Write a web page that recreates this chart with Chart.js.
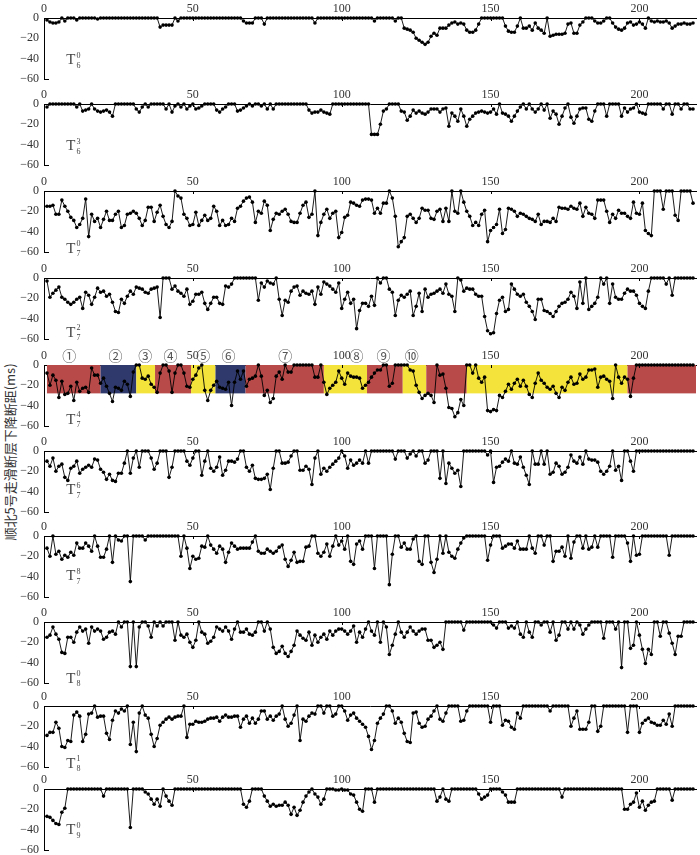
<!DOCTYPE html>
<html>
<head>
<meta charset="utf-8">
<script src="https://cdn.jsdelivr.net/npm/chart.js@4.4.1/dist/chart.umd.min.js"></script>
<style>
  body { margin: 0; background: #fff; width: 700px; height: 855px; position: relative; overflow: hidden; }
  canvas { position: absolute; left: 0; }
  #ytitle {
    position: absolute; left: 9px; top: 452px; white-space: nowrap;
    font: 13px "Noto Sans CJK SC", sans-serif; color: #333;
    transform: translate(-50%, -50%) rotate(-90deg);
  }
</style>
</head>
<body>
<div id="ytitle">顺北5号走滑断层下降断距(ms)</div>
<script>
// tick labels
const xTicks = [0, 50, 100, 150, 200];
const yTicks = [0, -20, -40, -60];

// panel names (T with superscript / subscript)
const panelSup = ['0', '3', '0', '2', '4', '6', '8', '0', '1', '0'];
const panelSub = ['6', '6', '7', '7', '7', '7', '7', '8', '8', '9'];

// throw values (ms), one per position 1..218
const t6_0 = [-2,-4,-5,-5,-4,0,-3,0,0,0,
  -2,0,0,0,0,0,0,-1,0,0,
  0,0,0,0,0,0,0,0,0,0,
  0,0,0,0,0,0,0,0,-9,-7,
  -7,-7,-7,0,-3,0,0,0,0,0,
  0,0,0,0,0,0,0,0,0,0,
  0,0,0,0,0,0,-3,-5,-5,-5,
  0,0,0,-6,0,0,0,0,0,0,
  0,0,0,0,0,0,0,0,0,0,
  -5,0,0,0,0,0,0,0,0,0,
  0,0,0,0,0,0,0,0,0,0,
  -3,0,0,0,0,0,0,-3,0,0,
  -10,-11,-12,-14,-20,-22,-24,-26,-24,-18,
  -15,-17,-10,-10,-10,-7,-5,-4,-6,-5,
  -6,-12,-14,-14,-12,-6,0,0,0,0,
  0,0,0,0,-8,-13,-14,-14,-8,0,
  -10,-10,-8,-12,-5,-10,-12,-15,0,-18,
  -17,-16,-16,-16,-15,-6,-5,-15,-15,-7,
  -4,0,0,0,-3,-5,-5,-3,0,0,
  -5,-9,-11,-12,-10,-5,-4,-7,-6,-4,
  -6,-10,0,-3,-4,-3,-4,-4,-3,-5,
  -10,-8,-6,-6,-5,-6,-6,-5];

const t6_3 = [-3,0,0,0,0,0,0,0,0,0,
  -3,0,-7,-6,-5,0,-5,-7,-8,-7,
  -6,-8,-12,0,0,0,0,0,0,0,
  -5,-8,-3,0,-3,0,0,0,0,0,
  -5,0,-8,-2,0,-3,0,-5,-2,0,
  -5,-4,-2,0,0,0,0,-6,-8,-5,
  -3,0,0,0,-7,-6,-4,-2,0,-2,
  0,0,-2,0,-5,0,-5,0,0,0,
  0,0,0,0,0,0,0,0,-6,-9,
  -8,-8,-6,-8,-9,-10,0,0,0,0,
  0,0,0,0,0,0,0,0,0,-30,
  -30,-30,-20,-7,-5,0,0,0,0,-7,
  -8,-16,-12,-6,-9,-7,-9,-10,-8,-5,
  -5,-5,-8,-5,-4,-22,-9,-12,-17,-5,
  -12,-22,-15,-12,-9,-8,-7,-8,-9,-8,
  -5,-10,0,-9,-10,-12,-17,-12,-7,-3,
  0,-5,0,-5,-8,-5,0,-6,0,-14,
  -7,-10,-20,-12,-4,0,-13,-19,-12,-5,
  -4,-4,-15,-17,-7,0,0,0,-12,0,
  0,0,0,-12,-4,-8,-5,-4,0,-8,
  -9,-10,0,0,0,0,0,-5,0,0,
  -10,0,0,-5,0,0,-5,-5];

const t7_0 = [-15,-15,-14,-23,-23,-9,-15,-20,-26,-29,
  -36,-33,-27,-8,-45,-23,-30,-27,-36,-28,
  -20,-29,-29,-23,-20,-36,-34,-23,-22,-20,
  -22,-27,-34,-29,-16,-16,-30,-21,-14,-25,
  -33,-36,-30,0,-5,-7,-23,-27,-34,-33,
  -21,-34,-29,-24,-29,-27,-15,-20,-34,-29,
  -34,-33,-27,-30,-17,-15,-10,-7,-6,-11,
  -31,-20,-22,-10,-14,-39,-28,-22,-23,-20,
  -18,-23,-30,-31,-31,-22,-14,-11,-26,-23,
  0,-44,-31,-23,-18,-27,-22,-20,-46,-41,
  -26,-24,-11,-12,-14,-15,-9,-8,-8,-9,
  -22,-17,-22,-12,-12,0,-7,-25,-55,-50,
  -46,-25,-23,-27,-31,-27,-17,-19,-19,-27,
  -28,-20,-18,-30,-17,-30,0,-20,-22,0,
  -11,-20,-25,-34,-31,-34,-23,-19,-50,-39,
  -36,-33,-18,-42,-38,-17,-18,-20,-25,-22,
  -23,-25,-27,-28,-30,-23,-33,-30,-30,-31,
  -27,-30,-16,-17,-17,-18,-15,-17,-18,-12,
  -25,-16,-22,-23,-27,-9,-9,-9,-20,-31,
  -23,-27,-19,-22,-22,-25,-27,-11,-22,-23,
  -12,-39,-42,-44,0,0,0,-18,0,0,
  0,-24,-29,0,0,0,0,-12];

const t7_2 = [-3,-19,-15,-12,-9,-19,-21,-24,-26,-24,
  -21,-19,-30,-14,-17,-26,-19,-10,-14,-13,
  -18,-16,-24,-33,-34,-21,-25,-18,-13,-16,
  -9,-10,-11,-14,-15,-11,-10,-9,-39,0,
  0,0,-11,-8,-13,-15,-18,-11,-26,-23,
  -16,-16,-14,-25,-31,-25,-19,-19,-25,-26,
  -8,-9,-6,0,0,0,0,0,0,0,
  0,-22,-5,-9,-3,-5,-6,0,-21,-37,
  -22,-24,-13,-9,-8,-17,-13,-15,-16,-13,
  -26,-9,-16,-4,-6,-8,-11,-14,-5,-30,
  -21,-14,-25,-21,-50,-32,-25,-25,-28,-18,
  -27,0,-5,0,0,-11,-14,-37,-22,-17,
  -19,-16,-13,-37,-28,-15,-33,-11,-19,-16,
  -15,-13,-11,-15,-6,-16,-18,-33,0,-2,
  -13,-10,-11,-11,-16,-18,-18,-38,-52,-55,
  -54,-35,-22,-19,-33,-31,-6,-11,-16,-18,
  -16,-24,-28,-33,-41,-21,-21,-32,-33,-35,
  -38,-33,-28,-25,-24,-21,-14,-18,-30,-4,
  -25,0,-31,-28,-25,-19,0,-6,0,-25,
  -6,-19,-21,-21,-15,-11,-13,-13,-17,-25,
  -28,-30,-13,0,0,0,0,0,-6,0,
  -17,0,0,0,0,0,0,0];

const t7_4 = [-8,-20,-10,-15,-32,-16,-29,-28,-21,-35,
  -17,-26,-23,-22,-27,-3,-10,-10,-18,-13,
  -21,-28,-36,-22,-23,-25,-16,-19,-31,-7,
  0,0,-13,-14,-11,-19,-22,-27,-8,0,
  0,-6,-27,-8,0,0,-8,-21,-22,-14,
  -10,-3,0,-25,-35,-25,-20,-16,-22,-23,
  -24,-17,-40,-17,-6,-14,-6,-21,-14,-13,
  -11,0,-11,-30,-25,-37,-33,-11,-7,-14,
  0,-7,-7,0,0,0,0,0,0,0,
  -12,-12,0,-17,-29,-23,-20,-17,-6,-13,
  -19,-8,-11,-12,-12,-13,-23,-20,-17,-12,
  -8,-5,-5,0,0,-21,-18,0,0,0,
  0,0,-5,-6,-20,-27,-33,-30,-28,-30,
  -37,0,-10,-9,-23,-42,-43,-51,-47,-34,
  -40,0,0,-8,0,-13,-17,-12,-45,-46,
  -44,-45,-30,-32,-26,-19,-24,-18,-14,-21,
  -15,-21,-29,-32,-18,-8,-15,-18,-22,-24,
  -21,-28,-32,-22,-25,-17,-12,-19,-18,-9,
  -14,-12,-5,-5,-4,-22,-12,-11,-14,-16,
  -33,0,-12,-18,-12,-14,-31,-13,0,0,
  0,0,0,0,0,0,0,0,0,0,
  0,0,0,0,0,0,0,0];

const t7_6 = [-10,-15,-7,-20,-15,-13,-26,-29,-17,-15,
  -10,-22,-18,-16,-14,-16,-8,-9,-18,-21,
  -28,-23,-29,-30,-22,-22,-12,0,-22,-7,
  0,-16,0,0,0,-7,-18,-12,0,0,
  0,-26,-16,0,0,0,0,-10,-14,-7,
  0,0,-24,-10,0,-17,-20,-16,-6,-24,
  -19,-10,-10,-11,-8,0,0,-16,-20,-14,
  -27,-28,-28,-27,-23,-38,-17,0,0,-12,
  -12,-11,-5,0,0,-19,-19,-15,-18,-33,
  -7,0,-23,-17,-20,-16,-13,-10,-7,0,
  -5,-17,-9,-14,-12,-9,-12,0,-12,0,
  0,0,0,0,0,0,0,-8,0,0,
  0,-7,-3,0,-5,0,0,-12,-9,0,
  0,0,-27,0,-32,-12,-17,-22,-19,-35,
  0,0,0,0,0,0,0,0,-4,0,
  -31,-16,-15,-11,-8,-10,0,-12,-13,-6,
  -16,-24,-33,0,-13,-13,0,-13,0,-23,
  -21,-12,-15,-23,-21,-16,-4,-10,-12,-6,
  -13,0,-8,-9,-9,-11,-20,-23,-20,-15,
  0,-19,-15,-29,0,0,-10,-20,0,0,
  0,0,0,0,0,0,0,0,0,0,
  0,0,0,0,0,0,0,0];

const t7_8 = [-12,-20,0,-18,-15,-23,-19,-21,-16,-19,
  -7,-12,-12,-7,-10,-15,0,-10,-21,-21,
  -13,0,-26,0,-4,-5,0,0,-45,0,
  0,0,0,-4,0,0,0,0,0,0,
  0,0,0,0,0,-20,0,-12,-32,-20,
  -23,-22,-10,-11,0,-9,-13,-17,-10,-13,
  -26,-16,-7,-10,-13,-12,-12,-12,-12,-6,
  0,-15,-17,-17,-13,-15,-17,-15,-11,-9,
  -23,-30,-24,-16,-26,-25,-25,-11,-10,0,
  0,-17,-20,-16,-8,-20,-10,0,-9,-5,
  -13,0,-25,-28,-8,-5,-13,0,0,0,
  -32,0,0,0,0,-48,-18,0,0,-11,
  -7,-13,-13,-3,0,-25,-28,0,0,-26,
  -36,-23,0,-17,0,-16,-20,-22,-13,-7,
  -2,0,0,0,0,0,0,0,-24,-9,
  0,0,0,-12,-10,-8,-8,-12,-5,-13,
  -13,-13,0,-12,-17,0,0,-9,0,0,
  -25,-15,-15,-11,-20,0,-22,-6,0,0,
  -12,0,-13,-11,0,-11,0,0,0,0,
  -21,0,0,0,0,-7,-25,0,-19,-18,
  0,0,0,0,0,0,0,0,0,-19,
  0,0,0,0,0,0,0,0];

const t8_0 = [-15,-13,-5,-12,-17,-30,-31,-15,-15,-20,
  -10,-5,-9,-7,-21,-5,-9,-7,-9,-17,
  -15,-10,-9,-12,0,-5,0,0,-44,0,
  -44,-5,0,0,-4,-15,0,-4,0,-4,
  0,0,0,-18,0,-13,-15,-12,-20,-25,
  -18,0,-10,-12,-21,-19,-15,-5,-7,-9,
  -5,-9,-17,-7,0,-10,-10,-7,-12,-13,
  -10,0,0,-9,0,-7,-25,-31,-29,-24,
  -31,-34,-29,-23,-9,-13,-16,-18,-10,-23,
  -13,-20,-15,-12,-17,-9,-13,-9,-7,-7,
  -9,-12,-9,-4,-20,-10,-15,-7,0,-9,
  -13,0,-20,0,-5,-32,-23,-12,0,-10,
  -15,-10,-5,-9,-12,-9,-7,-7,-18,-18,
  -25,-23,-20,-27,0,0,0,0,0,0,
  -8,0,0,0,0,0,0,0,0,0,
  -3,-6,0,0,0,-6,-4,-6,0,-12,
  -15,0,-10,-15,0,0,-3,0,0,-10,
  0,-18,-13,0,0,-7,0,-7,0,-3,
  -12,-7,-3,0,0,0,0,-16,0,0,
  0,-7,0,-45,0,0,-26,-23,0,-13,
  -27,-41,-27,-32,0,0,-14,0,0,-11,
  -21,-32,-14,-14,0,0,0,0];

const t8_1 = [-29,-26,-26,-16,-22,-40,-41,-34,-35,-9,
  -6,-10,-35,-28,-8,-7,0,-11,-10,-10,
  -27,-33,-14,-5,-7,-3,-5,0,-38,-16,
  -45,-7,0,-9,-12,-28,-40,-32,-19,-16,
  -13,-11,-13,-11,-10,-10,0,-31,-18,-18,
  -15,-16,-16,-15,-13,-12,-12,-11,-15,-11,
  -9,-11,-11,-10,-10,-21,-13,-10,-17,-12,
  -17,-13,-5,-5,-13,-10,-14,-10,-8,0,
  -13,-20,-17,-9,0,-34,-13,-15,-10,-7,
  -8,0,0,-7,0,0,-10,-8,0,0,
  -5,-14,-9,-7,-12,-15,-18,-21,-30,-43,
  -34,-17,-12,-8,0,0,-5,-17,-12,-16,
  -27,-35,-36,-7,-6,-17,-21,-20,-13,-10,
  -5,0,-13,-15,-7,0,0,0,0,-15,
  -14,-5,0,0,0,0,0,0,0,-16,
  0,0,0,-19,-14,-15,-21,-23,-7,-12,
  0,0,0,0,0,0,0,0,0,-5,
  0,0,0,0,0,0,-20,-12,-5,-23,
  -23,-23,-16,0,0,-25,-20,0,0,0,
  0,0,0,0,0,-26,0,0,0,-26,
  -17,-14,-12,-16,-17,-19,-19,-14,-18,-8,
  -20,0,0,0,0,0,0,0];

const t9_0 = [-27,-28,-31,-34,-35,-23,-19,0,0,0,
  0,0,0,0,0,0,0,0,0,-7,
  0,0,0,0,0,0,0,0,-38,0,
  0,0,0,-3,-5,-10,-15,-10,-17,0,
  -7,-12,-16,0,0,0,0,0,0,0,
  0,0,0,0,0,0,0,0,0,0,
  0,0,0,0,0,0,-15,-18,-12,0,
  0,0,0,-7,-12,-17,-15,-17,-16,-16,
  -13,-16,-25,-18,-26,-21,-13,-7,-3,0,
  -5,-8,-15,-10,0,0,0,-1,-1,0,
  -1,-1,-5,-6,-13,-20,-22,0,0,0,
  -13,0,0,0,0,0,0,0,0,0,
  0,0,0,0,0,0,0,0,0,0,
  0,-12,-8,0,-10,-12,0,0,0,0,
  0,0,0,0,0,-5,-10,-8,-6,0,
  0,0,0,-3,-6,-13,-13,-13,0,0,
  0,0,0,0,0,0,0,0,0,0,
  0,0,0,-8,0,0,0,0,0,0,
  0,0,0,0,0,0,0,0,0,0,
  0,0,0,0,-20,-20,-15,-13,-4,-18,
  -12,-21,-16,-13,-12,0,0,0,0,0,
  -11,0,0,0,0,0,0,0];

const series = [t6_0, t6_3, t7_0, t7_2, t7_4, t7_6, t7_8, t8_0, t8_1, t9_0];

// fault segments of the T7^4 panel
const segEdges = [1, 19, 31, 37.3, 49.4, 57.6, 67.7, 94, 108.5, 120.5, 128.4, 142, 196, 219];
const segKinds = ['r', 'b', 'y', 'r', 'y', 'b', 'r', 'y', 'r', 'y', 'r', 'y', 'r'];
const segLabels = ['①', '②', '③', '④', '⑤', '⑥', '⑦', '⑧', '⑨', '⑩'];
const segLabelX = [8.5, 24, 34, 42.5, 53.5, 62, 81, 105, 114, 123.5];
const segDepth = -28;

// layout
const zeroLine = [18, 104, 191, 278, 365, 451, 536, 622, 706, 789];
const labelY = [-42, -42, -57, -54, -54, -39, -40, -56, -57, -41];
const kindColor = { r: '#b84a4a', b: '#2f396b', y: '#f3e33b' };
const serif = '"Liberation Serif", "Times New Roman", serif';

const panelLabel = {
  id: 'panelLabel',
  afterDraw(chart, args, opts) {
    const ctx = chart.ctx;
    const x = chart.scales.x.getPixelForValue(7.5);
    const y = chart.scales.y.getPixelForValue(opts.y);
    ctx.save();
    ctx.fillStyle = '#444';
    ctx.textBaseline = 'middle';
    ctx.font = '15px ' + serif;
    ctx.fillText('T', x, y);
    const w = ctx.measureText('T').width;
    ctx.font = '8px ' + serif;
    ctx.fillText(opts.sup, x + w + 1, y - 5);
    ctx.fillText(opts.sub, x + w + 1, y + 5);
    // small inward ticks
    const xs = chart.scales.x, ys = chart.scales.y;
    ctx.strokeStyle = '#000';
    ctx.lineWidth = 1;
    ctx.beginPath();
    const yb = Math.round(ys.getPixelForValue(-60)) + 0.5;
    ctx.moveTo(xs.left, yb);
    ctx.lineTo(xs.left + 5, yb);
    xTicks.slice(1).forEach(v => {
      const px = Math.round(xs.getPixelForValue(v)) + 0.5;
      ctx.moveTo(px, ys.top);
      ctx.lineTo(px, ys.top + 3);
    });
    ctx.stroke();
    ctx.restore();
  }
};

const segments = {
  id: 'segments',
  beforeDatasetsDraw(chart, args, opts) {
    if (!opts.on) return;
    const ctx = chart.ctx, xs = chart.scales.x, ys = chart.scales.y;
    const y0 = ys.getPixelForValue(0), y1 = ys.getPixelForValue(segDepth);
    ctx.save();
    segKinds.forEach((k, i) => {
      const a = xs.getPixelForValue(segEdges[i]);
      const b = Math.min(xs.getPixelForValue(segEdges[i + 1]), xs.right);
      ctx.fillStyle = kindColor[k];
      ctx.fillRect(a, y0, b - a, y1 - y0);
    });
    ctx.restore();
  },
  afterDraw(chart, args, opts) {
    if (!opts.on) return;
    const ctx = chart.ctx, xs = chart.scales.x, ys = chart.scales.y;
    ctx.save();
    ctx.fillStyle = '#555';
    ctx.font = '14px "Noto Sans CJK SC", sans-serif';
    ctx.textAlign = 'center';
    ctx.textBaseline = 'middle';
    segLabels.forEach((t, i) => ctx.fillText(t, xs.getPixelForValue(segLabelX[i]), ys.top - 9));
    ctx.restore();
  }
};

series.forEach((values, i) => {
  const canvas = document.createElement('canvas');
  canvas.width = 700;
  canvas.height = 90;
  canvas.style.top = (zeroLine[i] - 17) + 'px';
  document.body.appendChild(canvas);

  new Chart(canvas.getContext('2d'), {
    type: 'line',
    data: {
      datasets: [{
        data: values.map((v, k) => ({ x: k + 1, y: v })),
        borderColor: '#000',
        borderWidth: 0.9,
        pointRadius: 1.8,
        pointBackgroundColor: '#000',
        pointBorderWidth: 0,
        tension: 0,
        clip: 5
      }]
    },
    options: {
      responsive: false,
      animation: false,
      devicePixelRatio: 1,
      layout: { padding: { left: 0, right: 0, top: 0, bottom: 9 } },
      plugins: {
        legend: { display: false },
        tooltip: { enabled: false },
        panelLabel: { y: labelY[i], sup: panelSup[i], sub: panelSub[i] },
        segments: { on: i === 4 }
      },
      scales: {
        x: {
          type: 'linear',
          position: 'top',
          min: 0,
          max: 219,
          afterBuildTicks: s => { s.ticks = xTicks.map(v => ({ value: v })); },
          afterFit: s => { s.height = 17; },
          grid: { display: true, drawOnChartArea: false, drawTicks: false },
          border: { display: true, color: '#000', width: 1 },
          ticks: { font: { family: serif, size: 12 }, color: '#333', padding: 2, maxRotation: 0, autoSkip: false }
        },
        y: {
          min: -60,
          max: 0,
          afterBuildTicks: s => { s.ticks = yTicks.map(v => ({ value: v })); },
          afterFit: s => { s.width = 44; },
          grid: { display: true, drawOnChartArea: false, drawTicks: false },
          border: { display: true, color: '#000', width: 1 },
          ticks: {
            font: { family: serif, size: 12 }, color: '#333', padding: 5,
            callback: v => v === 0 ? '0' : '\u2212' + Math.abs(v)
          }
        }
      }
    },
    plugins: [panelLabel, segments]
  });
});
</script>
</body>
</html>
